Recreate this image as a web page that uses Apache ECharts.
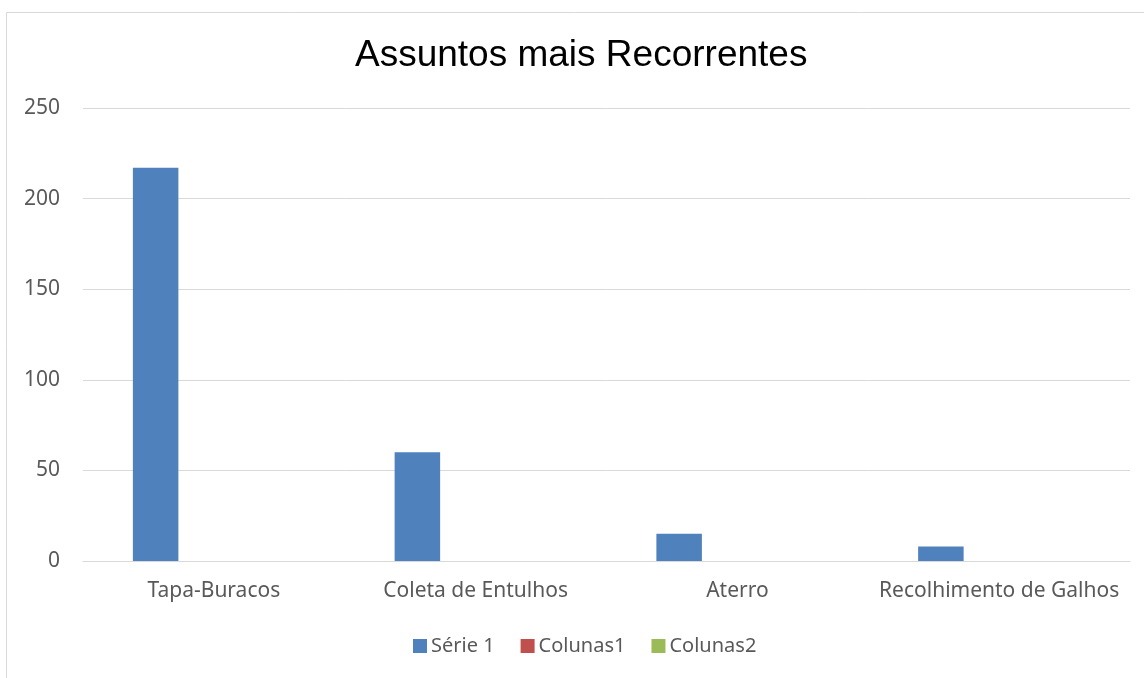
<!DOCTYPE html>
<html>
<head>
<meta charset="utf-8">
<script src="https://cdn.jsdelivr.net/npm/echarts@6/dist/echarts.min.js"></script>
<style>
html,body{margin:0;padding:0;background:#fff;}
#chart{width:1144px;height:678px;}
</style>
</head>
<body>
<div id="chart"></div>
<script>
const categories = ['Tapa-Buracos', 'Coleta de Entulhos', 'Aterro', 'Recolhimento de Galhos'];
const serie1 = [217, 60, 15, 8];
const colunas1 = [null, null, null, null];
const colunas2 = [null, null, null, null];
const seriesNames = ['Série 1', 'Colunas1', 'Colunas2'];
const yTicks = { min: 0, max: 250, interval: 50 };

const chart = echarts.init(document.getElementById('chart'), null, { renderer: 'canvas' });
const labelFont = '"Noto Sans", "Open Sans", sans-serif';
const barW = 45.5;
chart.setOption({
  animation: false,
  backgroundColor: '#ffffff',
  color: ['#4F81BD', '#C0504D', '#9BBB59'],
  title: {
    text: 'Assuntos mais Recorrentes',
    left: 355,
    top: 37,
    padding: 0,
    textStyle: { fontFamily: '"Liberation Sans", Arial, sans-serif', fontSize: 37, fontWeight: 'normal', color: '#000000' }
  },
  legend: {
    data: seriesNames,
    left: 413,
    top: 636,
    padding: 0,
    itemWidth: 14,
    itemHeight: 14,
    itemGap: 26,
    icon: 'rect',
    textStyle: { fontFamily: labelFont, fontSize: 20, color: '#595959', padding: [0, 0, 0, -1] }
  },
  grid: { left: 83, right: 14, top: 108, bottom: 117, containLabel: false },
  xAxis: {
    type: 'category',
    data: categories,
    axisLine: { show: true, lineStyle: { color: '#d9d9d9', width: 1 } },
    axisTick: { show: false },
    axisLabel: { fontFamily: labelFont, fontSize: 21, color: '#595959', margin: 20, interval: 0 },
    splitLine: { show: false }
  },
  yAxis: {
    type: 'value',
    min: yTicks.min,
    max: yTicks.max,
    interval: yTicks.interval,
    axisLine: { show: false },
    axisTick: { show: false },
    axisLabel: { fontFamily: labelFont, fontSize: 21, color: '#595959', margin: 23 },
    splitLine: { show: true, lineStyle: { color: '#d9d9d9', width: 1 } }
  },
  graphic: [{
    type: 'rect',
    silent: true,
    shape: { x: 6.5, y: 12.5, width: 1300, height: 800 },
    style: { fill: 'none', stroke: '#d9d9d9', lineWidth: 1 }
  }],
  series: [
    { name: seriesNames[0], type: 'bar', data: serie1, barWidth: barW, barGap: '28%' },
    { name: seriesNames[1], type: 'bar', data: colunas1, barWidth: barW, barGap: '28%' },
    { name: seriesNames[2], type: 'bar', data: colunas2, barWidth: barW, barGap: '28%' }
  ]
});
</script>
</body>
</html>
